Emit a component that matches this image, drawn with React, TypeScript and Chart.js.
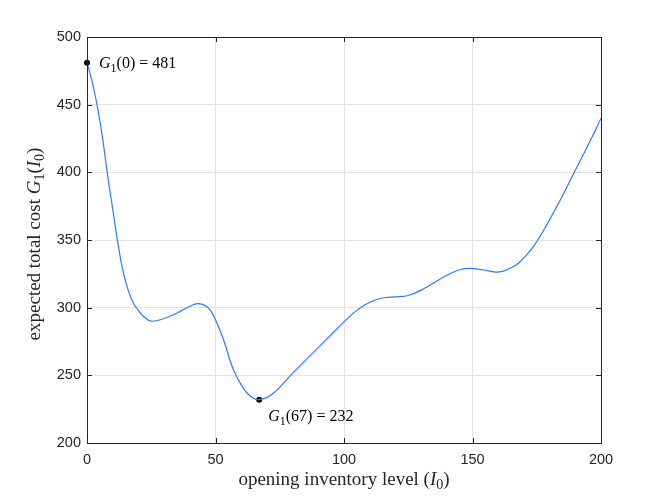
import React, { useEffect, useRef } from "react";
import { Chart, registerables } from "chart.js";

Chart.register(...registerables);

// Opening inventory level I0 and expected total cost G1(I0)
const inventoryLevels = [0, 2, 4, 6, 8, 10, 12, 14, 16, 18, 20, 22, 25, 30, 35, 40, 43, 46, 48, 50, 53, 57, 61, 64, 67, 72, 80, 90, 95, 100, 104, 108, 112, 116, 120, 125, 131, 140, 145, 149, 154, 159, 162, 165, 168, 171, 174, 177, 180, 184, 188, 192, 196, 200];
const expectedCost = [481, 467, 449, 426, 398, 373, 348, 327, 313, 303.5, 298, 293.5, 290, 292, 296, 301, 303, 301.5, 298, 291, 277, 254, 240, 234, 232, 236, 251.5, 270.5, 280, 289.5, 296.5, 302, 305.5, 307.5, 308, 309, 314, 324, 328, 329, 328, 326.3, 327, 329.5, 333, 339, 346, 355, 365, 379, 394, 409, 424, 440];

const markerX = [0, 67];
const markerY = [481, 232];

const xTicks = [0, 50, 100, 150, 200];
const yTicks = [200, 250, 300, 350, 400, 450, 500];

type Seg = { t: string; it?: boolean; sub?: boolean };
const xTitle: Seg[] = [{ t: "opening inventory level (" }, { t: "I", it: true }, { t: "0", sub: true }, { t: ")" }];
const yTitle: Seg[] = [{ t: "expected total cost " }, { t: "G", it: true }, { t: "1", sub: true }, { t: "(" }, { t: "I", it: true }, { t: "0", sub: true }, { t: ")" }];
const markerLabels: Seg[][] = [
  [{ t: "G", it: true }, { t: "1", sub: true }, { t: "(0) = 481" }],
  [{ t: "G", it: true }, { t: "1", sub: true }, { t: "(67) = 232" }],
];

const SERIF = '"Liberation Serif", "DejaVu Serif", serif';

function segFont(s: Seg, size: number) {
  const sz = s.sub ? Math.round(size * 0.72) : size;
  return `${s.it ? "italic " : ""}${sz}px ${SERIF}`;
}

function measureSegs(ctx: CanvasRenderingContext2D, segs: Seg[], size: number) {
  let w = 0;
  for (const s of segs) {
    ctx.font = segFont(s, size);
    w += ctx.measureText(s.t).width;
  }
  return w;
}

function drawSegs(ctx: CanvasRenderingContext2D, segs: Seg[], x: number, y: number, size: number) {
  let cx = x;
  ctx.textBaseline = "middle";
  ctx.textAlign = "left";
  for (const s of segs) {
    ctx.font = segFont(s, size);
    ctx.fillText(s.t, cx, s.sub ? y + size * 0.3 : y);
    cx += ctx.measureText(s.t).width;
  }
}

const decorPlugin = {
  id: "decor",
  afterDraw(chart: any) {
    const { ctx, chartArea: a, scales } = chart;
    const xs = scales.x;
    const ys = scales.y;
    ctx.save();
    // box
    ctx.strokeStyle = "#262626";
    ctx.lineWidth = 1;
    ctx.strokeRect(Math.round(a.left) + 0.5, Math.round(a.top) + 0.5, Math.round(a.right - a.left), Math.round(a.bottom - a.top));
    // inward ticks
    const tl = 5;
    ctx.beginPath();
    for (const v of xTicks) {
      const px = Math.round(xs.getPixelForValue(v)) + 0.5;
      ctx.moveTo(px, a.bottom);
      ctx.lineTo(px, a.bottom - tl);
      ctx.moveTo(px, a.top);
      ctx.lineTo(px, a.top + tl);
    }
    for (const v of yTicks) {
      const py = Math.round(ys.getPixelForValue(v)) + 0.5;
      ctx.moveTo(a.left, py);
      ctx.lineTo(a.left + tl, py);
      ctx.moveTo(a.right, py);
      ctx.lineTo(a.right - tl, py);
    }
    ctx.stroke();

    ctx.fillStyle = "#262626";
    // x title
    const size = 19;
    const xw = measureSegs(ctx, xTitle, size);
    drawSegs(ctx, xTitle, (a.left + a.right) / 2 - xw / 2, 480, size);
    // y title
    const yw = measureSegs(ctx, yTitle, size);
    ctx.save();
    ctx.translate(35, (a.top + a.bottom) / 2 + 4);
    ctx.rotate(-Math.PI / 2);
    drawSegs(ctx, yTitle, -yw / 2, 0, size);
    ctx.restore();

    // marker labels
    ctx.fillStyle = "#000";
    const offs = [
      [12, 1],
      [9, 17],
    ];
    markerLabels.forEach((segs, i) => {
      const px = xs.getPixelForValue(markerX[i]) + offs[i][0];
      const py = ys.getPixelForValue(markerY[i]) + offs[i][1];
      drawSegs(ctx, segs, px, py, 16);
    });
    ctx.restore();
  },
};

export default function App() {
  const ref = useRef<HTMLCanvasElement | null>(null);
  useEffect(() => {
    if (!ref.current) return;
    const chart = new Chart(ref.current, {
      type: "line",
      data: {
        datasets: [
          {
            data: inventoryLevels.map((x, i) => ({ x, y: expectedCost[i] })),
            borderColor: "rgb(40,125,255)",
            borderWidth: 1.2,
            pointRadius: 0,
            tension: 0.4,
            fill: false,
          },
          {
            data: markerX.map((x, i) => ({ x, y: markerY[i] })),
            showLine: false,
            pointRadius: 3,
            pointBackgroundColor: "#000",
            pointBorderColor: "#000",
            pointBorderWidth: 0,
            clip: false,
          } as any,
        ],
      },
      options: {
        animation: false,
        responsive: false,
        events: [],
        layout: { padding: { top: 37, right: 63, left: 0, bottom: 0 } },
        plugins: { legend: { display: false }, tooltip: { enabled: false } },
        scales: {
          x: {
            type: "linear",
            min: 0,
            max: 200,
            afterBuildTicks: (s: any) => {
              s.ticks = xTicks.map((v) => ({ value: v }));
            },
            afterFit: (s: any) => {
              s.height = 55;
            },
            grid: { color: "#e3e3e3", drawTicks: false },
            border: { display: false },
            ticks: { padding: 8, color: "#262626", font: { family: '"Liberation Sans", Arial, sans-serif', size: 14.5 }, maxRotation: 0 },
          },
          y: {
            type: "linear",
            min: 200,
            max: 500,
            afterBuildTicks: (s: any) => {
              s.ticks = yTicks.map((v) => ({ value: v }));
            },
            afterFit: (s: any) => {
              s.width = 87;
            },
            grid: { color: "#e3e3e3", drawTicks: false },
            border: { display: false },
            ticks: { padding: 6, color: "#262626", font: { family: '"Liberation Sans", Arial, sans-serif', size: 14.5 } },
          },
        },
      },
      plugins: [decorPlugin],
    } as any);
    return () => chart.destroy();
  }, []);
  return (
    <div style={{ position: "absolute", left: 0, top: 0, width: 664, height: 498, background: "#fff" }}>
      <canvas ref={ref} width={664} height={498} />
    </div>
  );
}
